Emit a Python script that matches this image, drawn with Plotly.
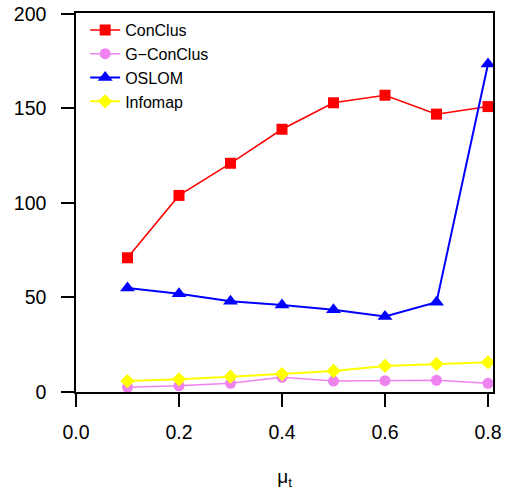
import plotly.graph_objects as go

mu_t = [0.1, 0.2, 0.3, 0.4, 0.5, 0.6, 0.7, 0.8]
conclus = [71, 104, 121, 139, 153, 157, 147, 151]
g_conclus = [2.5, 3.3, 4.6, 7.8, 5.8, 6.0, 6.2, 4.6]
oslom = [55, 52, 48, 46, 43.5, 40, 47.5, 173.5]
infomap = [5.8, 6.7, 8.1, 9.5, 11.1, 13.8, 14.8, 15.7]

x_ticks = [0.0, 0.2, 0.4, 0.6, 0.8]
x_tick_labels = ["0.0", "0.2", "0.4", "0.6", "0.8"]
y_ticks = [0, 50, 100, 150, 200]
y_tick_labels = ["0", "50", "100", "150", "200"]

font = "Liberation Sans, Arial, sans-serif"

fig = go.Figure()
fig.add_trace(go.Scatter(x=mu_t, y=conclus, name="ConClus", mode="lines+markers",
                         line=dict(color="#FF0000", width=1.5),
                         marker=dict(symbol="square", size=11, color="#FF0000")))
fig.add_trace(go.Scatter(x=mu_t, y=g_conclus, name="G\u2212ConClus", mode="lines+markers",
                         line=dict(color="#EE82EE", width=1.5),
                         marker=dict(symbol="circle", size=11, color="#EE82EE")))
fig.add_trace(go.Scatter(x=mu_t, y=oslom, name="OSLOM", mode="lines+markers",
                         line=dict(color="#0000FF", width=2),
                         marker=dict(symbol="triangle-up", size=13, color="#0000FF")))
fig.add_trace(go.Scatter(x=mu_t, y=infomap, name="Infomap", mode="lines+markers",
                         line=dict(color="#FFFF00", width=2),
                         marker=dict(symbol="diamond", size=11, color="#FFFF00")))

fig.update_layout(
    width=509, height=496,
    margin=dict(l=76, r=16, t=13, b=104, autoexpand=False),
    paper_bgcolor="white", plot_bgcolor="white",
    font=dict(family=font, size=19.5, color="black"),
    showlegend=True,
    legend=dict(x=0.022, y=1.0, xanchor="left", yanchor="top",
                bgcolor="rgba(0,0,0,0)", font=dict(size=16, color="black"),
                itemwidth=30, tracegroupgap=0),
    xaxis=dict(range=[0, 0.8097], tickvals=x_ticks, ticktext=x_tick_labels,
               automargin=False,
               showgrid=False, zeroline=False, showline=True, mirror=True,
               linecolor="black", linewidth=1.5, ticks="outside", ticklen=13,
               tickcolor="black", tickwidth=1.5, ticklabelstandoff=9,
               ticklabeloverflow="allow",
               title=dict(text="\u03bc<sub>t</sub>", standoff=28,
                          font=dict(size=19))),
    yaxis=dict(range=[0, 200.5], tickvals=y_ticks, ticktext=y_tick_labels,
               automargin=False,
               showgrid=False, zeroline=False, showline=True, mirror=True,
               linecolor="black", linewidth=1.5, ticks="outside", ticklen=13,
               tickcolor="black", tickwidth=1.5, ticklabelstandoff=11,
               ticklabeloverflow="allow"),
)

# remove the page's default body margin so the figure fills the window exactly
fig.write_html("out.html", config={"displayModeBar": False},
               post_script="document.body.style.margin='0px';")
